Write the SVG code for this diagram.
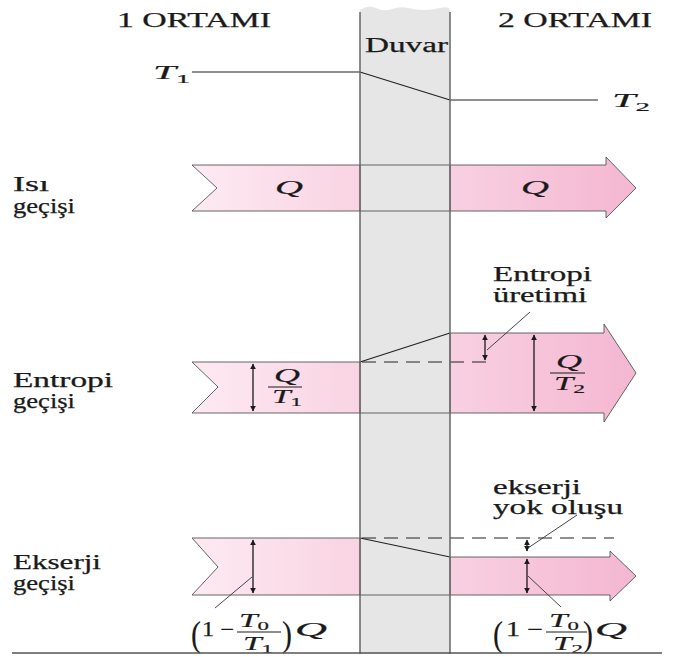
<svg xmlns="http://www.w3.org/2000/svg" width="675" height="657" viewBox="0 0 675 657">
<style>
.t{font-family:"Liberation Serif","Times New Roman",serif;font-size:20px;fill:#1a1a1a;stroke:#1a1a1a;stroke-width:0.25}
.m{font-family:"Liberation Serif","Times New Roman",serif;font-style:italic;font-size:19px;fill:#1a1a1a;stroke:#1a1a1a;stroke-width:0.2}
.s{font-size:13px;font-style:normal}
.ol{stroke:#555;stroke-width:0.9}
.ln{stroke:#222;stroke-width:1.2;fill:none}
.ld{stroke:#333;stroke-width:0.9;fill:none}
.da{stroke:#1a1a1a;stroke-width:1.3;fill:none;marker-start:url(#ah);marker-end:url(#ah)}
.dash{stroke:#222;stroke-width:1.2;stroke-dasharray:14 8;fill:none}
.fb{stroke:#1a1a1a;stroke-width:1}
</style>
<defs>
<linearGradient id="gl" x1="0" x2="1" y1="0" y2="0"><stop offset="0" stop-color="#fdeaf2"/><stop offset="1" stop-color="#f9d3e3"/></linearGradient>
<linearGradient id="gr" x1="0" x2="1" y1="0" y2="0"><stop offset="0" stop-color="#f8d0e1"/><stop offset="1" stop-color="#f4b7d1"/></linearGradient>
<marker id="ah" viewBox="0 0 10 10" refX="9" refY="5" markerWidth="6" markerHeight="6" markerUnits="userSpaceOnUse" orient="auto-start-reverse"><path d="M0,0 L10,5 L0,10 z" fill="#1a1a1a"/></marker>
</defs>

<g id="wall">
<path d="M360,10 Q368,4 376,8 T392,9 T408,8 T424,10 T440,8 T450,9 L450,654 L360,654 Z" fill="#e6e6e6"/>
</g>

<g id="headers">
<text class="t" x="117" y="27" textLength="154" lengthAdjust="spacingAndGlyphs">1 ORTAMI</text>
<text class="t" x="498" y="27" textLength="154" lengthAdjust="spacingAndGlyphs">2 ORTAMI</text>
<text class="t" x="365" y="52" textLength="83" lengthAdjust="spacingAndGlyphs">Duvar</text>
</g>

<g id="temperature">
<text class="m" x="153" y="79" textLength="37" lengthAdjust="spacingAndGlyphs">T<tspan class="s" dy="4">1</tspan></text>
<text class="m" x="612" y="107" textLength="38" lengthAdjust="spacingAndGlyphs">T<tspan class="s" dy="4">2</tspan></text>
</g>

<g id="heat">
<polygon class="ol" points="192,165 360,165 360,211 192,211 217,188" fill="url(#gl)"/>
<polygon class="ol" points="450,165 606,165 606,157 636,188 606,218 606,211 450,211" fill="url(#gr)"/>
<text class="m" x="275" y="194" textLength="28" lengthAdjust="spacingAndGlyphs">Q</text>
<text class="m" x="521" y="194" textLength="28" lengthAdjust="spacingAndGlyphs">Q</text>
<text class="t" x="13" y="191" textLength="36" lengthAdjust="spacingAndGlyphs">Isı</text>
<text class="t" x="13" y="213" textLength="62" lengthAdjust="spacingAndGlyphs">geçişi</text>
</g>

<g id="entropy">
<polygon class="ol" points="192,362 360,362 360,413 192,413 218,387" fill="url(#gl)"/>
<polygon class="ol" points="450,333 604,333 604,324 636,373 604,422 604,413 450,413" fill="url(#gr)"/>
<text class="t" x="13" y="387" textLength="100" lengthAdjust="spacingAndGlyphs">Entropi</text>
<text class="t" x="13" y="408" textLength="62" lengthAdjust="spacingAndGlyphs">geçişi</text>
<text class="t" x="493" y="281" textLength="99" lengthAdjust="spacingAndGlyphs">Entropi</text>
<text class="t" x="493" y="302" textLength="94" lengthAdjust="spacingAndGlyphs">üretimi</text>
<text class="m" x="274" y="382" textLength="26" lengthAdjust="spacingAndGlyphs">Q</text>
<line class="fb" x1="268" y1="387" x2="302" y2="387"/>
<text class="m" x="272" y="403" textLength="30" lengthAdjust="spacingAndGlyphs">T<tspan class="s" dy="3">1</tspan></text>
<text class="m" x="556" y="368" textLength="26" lengthAdjust="spacingAndGlyphs">Q</text>
<line class="fb" x1="550" y1="373" x2="585" y2="373"/>
<text class="m" x="554" y="390" textLength="31" lengthAdjust="spacingAndGlyphs">T<tspan class="s" dy="3">2</tspan></text>
</g>

<g id="exergy">
<polygon class="ol" points="192,538 360,538 360,595 192,595 218,567" fill="url(#gl)"/>
<polygon class="ol" points="450,557 610,557 610,551 636,576 610,601 610,595 450,595" fill="url(#gr)"/>
<text class="t" x="13" y="569" textLength="88" lengthAdjust="spacingAndGlyphs">Ekserji</text>
<text class="t" x="13" y="590" textLength="62" lengthAdjust="spacingAndGlyphs">geçişi</text>
<text class="t" x="493" y="494" textLength="88" lengthAdjust="spacingAndGlyphs">ekserji</text>
<text class="t" x="493" y="514" textLength="130" lengthAdjust="spacingAndGlyphs">yok oluşu</text>
<g id="formula1">
<text class="t" x="191" y="646" style="font-size:36px;stroke-width:0.1" textLength="10" lengthAdjust="spacingAndGlyphs">(</text>
<text class="t" x="202" y="636" textLength="32" lengthAdjust="spacingAndGlyphs">1 −</text>
<text class="m" x="239" y="627" textLength="30" lengthAdjust="spacingAndGlyphs">T<tspan class="s" dy="3">0</tspan></text>
<line class="fb" x1="237" y1="632" x2="281" y2="632"/>
<text class="m" x="243" y="650" textLength="30" lengthAdjust="spacingAndGlyphs">T<tspan class="s" dy="3">1</tspan></text>
<text class="t" x="282" y="646" style="font-size:36px;stroke-width:0.1" textLength="10" lengthAdjust="spacingAndGlyphs">)</text>
<text class="m" x="295" y="636" textLength="32" lengthAdjust="spacingAndGlyphs">Q</text>
</g>
<g id="formula2">
<text class="t" x="493" y="646" style="font-size:36px;stroke-width:0.1" textLength="10" lengthAdjust="spacingAndGlyphs">(</text>
<text class="t" x="506" y="636" textLength="37" lengthAdjust="spacingAndGlyphs">1 −</text>
<text class="m" x="549" y="627" textLength="30" lengthAdjust="spacingAndGlyphs">T<tspan class="s" dy="3">0</tspan></text>
<line class="fb" x1="546" y1="632" x2="587" y2="632"/>
<text class="m" x="553" y="650" textLength="30" lengthAdjust="spacingAndGlyphs">T<tspan class="s" dy="3">2</tspan></text>
<text class="t" x="583" y="646" style="font-size:36px;stroke-width:0.1" textLength="10" lengthAdjust="spacingAndGlyphs">)</text>
<text class="m" x="595" y="636" textLength="32" lengthAdjust="spacingAndGlyphs">Q</text>
</g>
</g>

<g id="connectors">
<line class="ln" x1="192" y1="72" x2="360" y2="72"/>
<line class="ln" x1="360" y1="72" x2="450" y2="100"/>
<line class="ln" x1="450" y1="100" x2="598" y2="100"/>
<line class="ol" x1="360" y1="165" x2="450" y2="165"/>
<line class="ol" x1="360" y1="211" x2="450" y2="211"/>
<line class="ln" x1="360" y1="362" x2="450" y2="333"/>
<line class="ol" x1="360" y1="413" x2="450" y2="413"/>
<path class="dash" d="M362,362 H494"/>
<line class="da" x1="485" y1="335" x2="485" y2="360"/>
<line class="da" x1="534" y1="335" x2="534" y2="411"/>
<line class="da" x1="253" y1="364" x2="253" y2="411"/>
<line class="ld" x1="487" y1="350" x2="530" y2="312"/>
<path class="dash" d="M362,538 H614"/>
<line class="ln" x1="360" y1="538" x2="450" y2="557"/>
<line class="ol" x1="360" y1="595" x2="450" y2="595"/>
<line class="da" x1="527" y1="540" x2="527" y2="551"/>
<line class="da" x1="527" y1="559" x2="527" y2="593"/>
<line class="da" x1="253" y1="540" x2="253" y2="593"/>
<line class="ld" x1="528" y1="548" x2="577" y2="515"/>
<line class="ld" x1="528" y1="576" x2="561" y2="607"/>
<line class="ld" x1="252" y1="577" x2="215" y2="608"/>
<line x1="360" y1="12" x2="360" y2="654" stroke="#666" stroke-width="1.5"/>
<line x1="450" y1="12" x2="450" y2="654" stroke="#666" stroke-width="1.5"/>
<line x1="12" y1="653" x2="662" y2="653" stroke="#555" stroke-width="1.5"/>
</g>
</svg>
